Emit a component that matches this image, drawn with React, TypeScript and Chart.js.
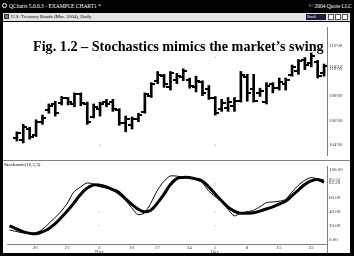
import React, { useEffect, useRef } from "react";
import { Chart, registerables } from "chart.js";

Chart.register(...registerables);

// Trading days shown (index 0 only carries the indicator)
const dates: string[] = [
  "Oct 14", "Oct 15", "Oct 16", "Oct 17", "Oct 20", "Oct 21", "Oct 22", "Oct 23", "Oct 24",
  "Oct 27", "Oct 28", "Oct 29", "Oct 30", "Oct 31", "Nov 3", "Nov 4", "Nov 5", "Nov 6", "Nov 7",
  "Nov 10", "Nov 12", "Nov 13", "Nov 14", "Nov 17", "Nov 18", "Nov 19", "Nov 20", "Nov 21",
  "Nov 24", "Nov 25", "Nov 26", "Nov 28", "Dec 1", "Dec 2", "Dec 3", "Dec 4", "Dec 5", "Dec 8",
  "Dec 9", "Dec 10", "Dec 11", "Dec 12", "Dec 15", "Dec 16", "Dec 17", "Dec 18", "Dec 19",
  "Dec 22", "Dec 23", "Dec 24",
];

const highs: (number | null)[] = [
  null,
  105.08, 105.68, 105.45, 106.05, 106.43, 107.33, 107.55, 107.93, 107.85, 108.22,
  108.22, 107.48, 107.33, 107.48, 107.7, 107.7, 106.95, 106.35, 106.28, 106.58,
  108.22, 109.05, 109.95, 109.72, 109.95, 109.8, 110.17, 109.42, 109.57, 109.2,
  108.82, 107.93, 107.7, 107.85, 107.85, 109.95, 109.72, 109.72, 108.6, 109.05,
  109.05, 109.42, 109.42, 110.47, 110.92, 111.07, 111.45, 110.85, 110.55,
];
const lows: (number | null)[] = [
  null,
  104.33, 104.18, 104.48, 104.7, 105.68, 106.58, 106.35, 107.25, 107.25, 107.1,
  107.18, 105.68, 106.2, 106.35, 107.1, 106.73, 105.6, 105.08, 105.3, 105.9,
  106.58, 107.85, 108.97, 108.67, 108.45, 108.97, 109.2, 108.6, 108.3, 108.0,
  107.7, 106.43, 106.73, 106.73, 106.73, 107.48, 107.55, 107.48, 107.93, 107.33,
  108.22, 108.45, 108.45, 109.57, 109.72, 110.1, 110.32, 109.42, 109.57,
];
const opens: (number | null)[] = [
  null,
  104.6, 104.4, 105.3, 104.8, 105.9, 106.8, 107.3, 107.4, 107.8, 107.3,
  108.1, 107.3, 106.3, 106.9, 107.5, 107.5, 106.8, 105.8, 105.6, 106.1,
  106.7, 108.0, 109.2, 109.6, 108.7, 109.3, 109.5, 109.3, 108.7, 109.1,
  108.5, 107.8, 106.9, 107.0, 107.2, 107.6, 109.5, 108.5, 108.2, 107.5,
  108.9, 108.6, 108.9, 109.7, 110.0, 110.9, 110.6, 110.7, 109.8,
];
const closes: (number | null)[] = [
  null,
  104.95, 105.5, 104.7, 105.9, 106.2, 107.2, 106.6, 107.8, 107.5, 108.1,
  107.4, 105.9, 107.1, 107.3, 107.3, 106.9, 105.8, 106.1, 106.1, 106.4,
  108.1, 108.9, 109.7, 108.9, 109.8, 109.6, 110.0, 108.8, 109.2, 108.2,
  107.8, 106.6, 107.4, 107.5, 107.6, 109.7, 108.2, 107.6, 108.4, 108.8,
  108.6, 109.1, 109.3, 110.3, 110.8, 110.5, 111.2, 109.6, 110.375,
];

// Stochastic(10,5,3): %K (thin) and %D (thick)
const stochK: number[] = [
  14, 12, 10, 9.5, 9.5, 14, 22, 31, 40, 52,
  68, 75, 81, 80, 76, 74, 71, 65, 57, 46,
  36, 38, 52, 70, 83, 91, 91, 89, 88, 86,
  82, 70, 62, 55, 44, 34, 38, 40, 42, 47,
  53, 54, 55, 57.5, 68, 78, 85, 89, 87, 85.52,
];
const stochD: number[] = [
  20, 16, 12, 9.5, 8.5, 11, 15, 22, 31, 41,
  52, 64, 73, 78, 78, 76, 72, 68, 59, 51,
  44, 40, 42, 52, 64, 78, 87, 89, 89, 87,
  84, 76, 66, 56, 47, 41, 38, 38, 38.5, 41,
  44, 47, 51, 55, 63, 71, 79, 84, 86, 82.2,
];

const xTickIndex: number[] = [4, 9, 14, 19, 23, 28, 32, 37, 42, 47];
const xTickLabels: string[][] = [
  ["20"], ["27"], ["3", "Nov"], ["10"], ["17"], ["24"], ["1", "Dec"], ["8"], ["15"], ["22"],
];
const priceTicks: number[] = [104, 106, 108, 110.15625, 110.375, 112];
const stochTicks: number[] = [0, 20, 40, 60, 82.2, 85.52, 100];
const monthStarts: number[] = [14, 32];
const priceDotLevels: number[] = [104, 111.1];
const stochDotLevels: number[] = [20, 40, 80];

const X_MIN = -0.385;
const X_MAX = 49.46;
const SERIF = "'Liberation Serif', 'Times New Roman', serif";

function fmt32(v: number): string {
  const w = Math.floor(v + 1e-9);
  const f = Math.round((v - w) * 32);
  return `${w}'${String(f).padStart(2, "0")}`;
}

function makeTick(side: "left" | "right"): HTMLCanvasElement {
  const c = document.createElement("canvas");
  c.width = 8;
  c.height = 2;
  const ctx = c.getContext("2d")!;
  ctx.fillStyle = "#000";
  ctx.fillRect(side === "left" ? 0 : 4, 0, 4, 2);
  return c;
}

function dots(levels: number[]) {
  const out: { x: number; y: number }[] = [];
  monthStarts.forEach((m) => levels.forEach((l) => out.push({ x: m, y: l })));
  return out;
}

export default function App() {
  const priceRef = useRef<HTMLCanvasElement>(null);
  const stochRef = useRef<HTMLCanvasElement>(null);

  useEffect(() => {
    Chart.defaults.font.family = SERIF;
    const openTick = makeTick("left");
    const closeTick = makeTick("right");

    const barData = dates
      .map((_, j) => (highs[j] == null ? null : { x: j, y: [lows[j] as number, highs[j] as number] }))
      .filter((d) => d !== null);
    const openData = dates
      .map((_, j) => (opens[j] == null ? null : { x: j, y: opens[j] as number }))
      .filter((d) => d !== null);
    const closeData = dates
      .map((_, j) => (closes[j] == null ? null : { x: j, y: closes[j] as number }))
      .filter((d) => d !== null);

    const rightAxisCommon = {
      position: "right" as const,
      grid: { display: false, drawTicks: false },
      border: { display: true, color: "#808080", width: 1 },
      afterFit: (s: any) => {
        s.width = 23;
      },
    };

    const price = new Chart(priceRef.current!, {
      type: "bar",
      data: {
        datasets: [
          {
            type: "line",
            data: dots(priceDotLevels),
            showLine: false,
            pointRadius: 0.6,
            pointBorderWidth: 0,
            pointBackgroundColor: "#9a9a9a",
            order: 10,
          } as any,
          {
            type: "bar",
            data: barData as any,
            backgroundColor: "#000",
            barThickness: 2,
            grouped: false,
            order: 2,
          },
          {
            type: "line",
            data: openData,
            showLine: false,
            pointStyle: openTick,
            pointRadius: 2,
            order: 1,
          } as any,
          {
            type: "line",
            data: closeData,
            showLine: false,
            pointStyle: closeTick,
            pointRadius: 2,
            order: 1,
          } as any,
        ],
      },
      options: {
        animation: false,
        responsive: false,
        devicePixelRatio: 1,
        events: [],
        layout: { padding: 0 },
        plugins: { legend: { display: false }, tooltip: { enabled: false } },
        scales: {
          x: { type: "linear", min: X_MIN, max: X_MAX, display: false, offset: false },
          y: {
            ...rightAxisCommon,
            min: 103.206,
            max: 113.543,
            afterBuildTicks: (s: any) => {
              s.ticks = priceTicks.map((v) => ({ value: v }));
            },
            ticks: {
              autoSkip: false,
              padding: 2,
              color: "#333",
              font: { size: 5, family: SERIF },
              callback: (v: any) => fmt32(Number(v)),
            },
          } as any,
        },
      },
    });

    const stoch = new Chart(stochRef.current!, {
      type: "line",
      data: {
        datasets: [
          {
            data: dots(stochDotLevels),
            showLine: false,
            pointRadius: 0.6,
            pointBorderWidth: 0,
            pointBackgroundColor: "#9a9a9a",
            order: 10,
          },
          {
            data: stochK.map((v, j) => ({ x: j, y: v })),
            borderColor: "#000",
            borderWidth: 1,
            pointRadius: 0,
            tension: 0.2,
            order: 2,
          },
          {
            data: stochD.map((v, j) => ({ x: j, y: v })),
            borderColor: "#000",
            borderWidth: 3,
            pointRadius: 0,
            tension: 0.4,
            order: 1,
          },
        ],
      },
      options: {
        animation: false,
        responsive: false,
        devicePixelRatio: 1,
        events: [],
        layout: { padding: 0 },
        plugins: { legend: { display: false }, tooltip: { enabled: false } },
        scales: {
          x: {
            type: "linear",
            min: X_MIN,
            max: X_MAX,
            offset: false,
            grid: { display: false, drawTicks: false },
            border: { display: true, color: "#808080", width: 1 },
            afterFit: (s: any) => {
              s.height = 9;
            },
            afterBuildTicks: (s: any) => {
              s.ticks = xTickIndex.map((v) => ({ value: v }));
            },
            ticks: {
              autoSkip: false,
              maxRotation: 0,
              padding: 1,
              color: "#333",
              font: { size: 5, family: SERIF, lineHeight: 0.9 },
              callback: (v: any) => {
                const k = xTickIndex.indexOf(Number(v));
                return k >= 0 ? xTickLabels[k] : "";
              },
            },
          } as any,
          y: {
            ...rightAxisCommon,
            min: -6.04,
            max: 105.37,
            afterBuildTicks: (s: any) => {
              s.ticks = stochTicks.map((v) => ({ value: v }));
            },
            ticks: {
              autoSkip: false,
              padding: 2,
              color: "#333",
              font: { size: 5, family: SERIF },
              callback: (v: any) => Number(v).toFixed(2),
            },
          } as any,
        },
      },
    });

    return () => {
      price.destroy();
      stoch.destroy();
    };
  }, []);

  const abs = (l: number, t: number, w: number, h: number, extra: React.CSSProperties = {}): React.CSSProperties => ({
    position: "absolute",
    left: l,
    top: t,
    width: w,
    height: h,
    ...extra,
  });

  return (
    <div style={abs(0, 0, 354, 256, { background: "#000", overflow: "hidden", fontFamily: SERIF })}>
      {/* application title bar */}
      <div style={abs(2, 3, 5, 5, { borderRadius: "50%", border: "1px solid #fff", boxSizing: "border-box" })} />
      <div style={abs(9, 2, 150, 8, { color: "#fff", fontSize: 5.5, lineHeight: "8px", whiteSpace: "nowrap" })}>
        QCharts 5.0.0.3 - EXAMPLE CHART1 *
      </div>
      <div style={abs(300, 2, 52, 8, { color: "#fff", fontSize: 5.5, lineHeight: "8px", textAlign: "right", whiteSpace: "nowrap" })}>
        © 2004 Quote LLC
      </div>
      {/* window caption */}
      <div style={abs(3, 13, 347, 8, { background: "#e4e4e4" })} />
      <div style={abs(4, 14, 5, 5, { background: "#6a7fa8", border: "1px solid #333", boxSizing: "border-box" })} />
      <div style={abs(11, 13, 160, 8, { color: "#000", fontSize: 5, lineHeight: "8px", whiteSpace: "nowrap" })}>
        U.S. Treasury Bonds (Mar. 2004), Daily
      </div>
      <div style={abs(306, 14, 20, 6, { background: "#1c1c3c", color: "#fff", fontSize: 4, lineHeight: "6px", paddingLeft: 1, boxSizing: "border-box", whiteSpace: "nowrap", overflow: "hidden" })}>
        Stoch
      </div>
      <div style={abs(328, 14, 6, 6, { background: "#fff", border: "1px solid #555", boxSizing: "border-box" })} />
      <div style={abs(335, 14, 6, 6, { background: "#fff", border: "1px solid #555", boxSizing: "border-box" })} />
      <div style={abs(342, 14, 6, 6, { background: "#fff", border: "1px solid #555", boxSizing: "border-box" })} />
      <div style={abs(3, 21, 347, 1, { background: "#000" })} />

      {/* price panel */}
      <canvas ref={priceRef} width={347} height={138} style={abs(3, 22, 347, 138, { background: "#fff", display: "block" })} />
      <div style={abs(3, 160, 347, 1, { background: "#808080" })} />
      {/* stochastic panel */}
      <canvas ref={stochRef} width={347} height={92} style={abs(3, 161, 347, 92, { background: "#fff", display: "block" })} />
      <div style={abs(327, 244, 1, 9, { background: "#808080" })} />

      <div style={abs(4, 161, 80, 7, { color: "#000", fontSize: 5, lineHeight: "7px", whiteSpace: "nowrap" })}>
        Stochastic(10,5,3)
      </div>
      <div
        style={abs(33, 37, 300, 18, {
          color: "#000",
          fontSize: 14.2,
          fontWeight: "bold",
          lineHeight: "18px",
          whiteSpace: "nowrap",
        })}
      >
        Fig. 1.2 – Stochastics mimics the market’s swing
      </div>
    </div>
  );
}
